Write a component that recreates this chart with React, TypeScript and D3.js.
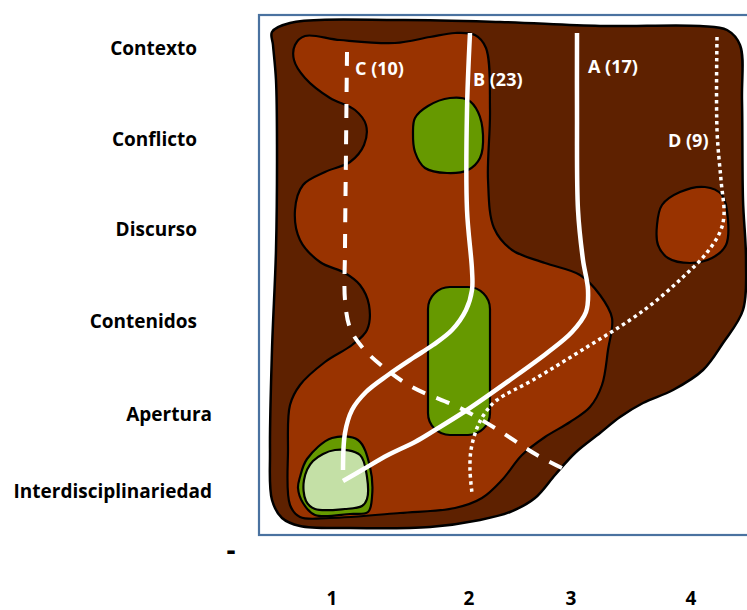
import React from 'react';
import * as d3 from 'd3';

// ---------- DATA ----------
const categories = ['Contexto', 'Conflicto', 'Discurso', 'Contenidos', 'Apertura', 'Interdisciplinariedad'];
const levelTicks = [1, 2, 3, 4];
const originLabel = '-';

const pathIds = ['A', 'B', 'C', 'D'];
const pathCounts = [17, 23, 10, 9];
const pathKinds = ['solid', 'solid', 'dashed', 'dotted'];

// Trajectories (frame units: x across, y down)
const pathA: [number, number][] = [[318, 18], [318, 95], [319, 195], [324, 245], [329, 275], [327, 297], [313, 317], [288, 338], [251, 365], [208, 395], [176, 415], [156, 427], [129, 440], [103, 455], [84, 466]];
const pathB: [number, number][] = [[211, 18], [208, 95], [208, 195], [213, 255], [213, 275], [207, 295], [193, 315], [174, 330], [154, 343], [129, 360], [107, 377], [93, 395], [86, 418], [84, 455]];
const pathC: [number, number][] = [[88, 37], [87, 135], [86, 235], [86, 285], [91, 313], [103, 332], [123, 351], [153, 372], [201, 393], [236, 413], [278, 440], [307, 455]];
const pathD: [number, number][] = [[458, 22], [458, 115], [462, 165], [465, 200], [461, 217], [446, 240], [424, 262], [398, 285], [371, 305], [328, 332], [274, 365], [238, 385], [226, 398], [218, 413], [212, 435], [211, 455], [213, 478]];

// Regions (frame units)
const outerRegion: [number, number][] = [[13, 17], [31, 8], [141, 5], [241, 7], [341, 11], [441, 11], [468, 15], [481, 30], [483, 85], [484, 185], [487, 245], [484, 295], [464, 328], [444, 355], [414, 375], [384, 388], [361, 402], [341, 418], [316, 438], [296, 460], [276, 483], [251, 497], [221, 505], [171, 512], [91, 513], [41, 511], [23, 503], [13, 485], [11, 435], [13, 335], [17, 235], [18, 135], [17, 65], [14, 30]];
const innerRegion: [number, number][] = [[36, 30], [46, 21], [81, 25], [136, 28], [171, 22], [196, 18], [216, 20], [227, 33], [231, 95], [229, 165], [235, 213], [253, 235], [286, 248], [321, 260], [341, 280], [353, 303], [349, 335], [343, 370], [331, 392], [311, 407], [286, 422], [263, 440], [243, 465], [223, 483], [196, 493], [141, 498], [71, 503], [41, 502], [31, 490], [29, 435], [31, 390], [41, 370], [66, 347], [93, 330], [108, 315], [110, 290], [101, 270], [86, 258], [61, 247], [41, 225], [36, 195], [44, 170], [66, 157], [91, 147], [105, 130], [107, 110], [96, 95], [71, 83], [46, 63], [35, 45]];
const discursoRegion: [number, number][] = [[398, 210], [403, 190], [421, 177], [446, 172], [463, 180], [469, 205], [467, 230], [453, 243], [431, 248], [409, 243], [399, 230]];
const conflictoRegion: [number, number][] = [[156, 103], [169, 91], [191, 83], [209, 85], [219, 97], [224, 120], [221, 143], [209, 155], [188, 158], [166, 153], [156, 137], [154, 118]];
const contenidosRegion = { x0: 169, x1: 231, y0: 272, y1: 420 };
const interOuterRegion: [number, number][] = [[41, 462], [48, 444], [73, 423], [99, 425], [111, 452], [113, 482], [109, 497], [91, 499], [56, 500], [44, 488], [39, 473]];
const interInnerRegion: [number, number][] = [[45, 465], [54, 446], [76, 435], [101, 440], [108, 462], [108, 484], [103, 491], [86, 494], [56, 494], [47, 486]];

// ---------- LAYOUT ----------
const W = 747;
const H = 610;
const sx = d3.scaleLinear().domain([0, 488]).range([259, 747]);
const sy = d3.scaleLinear().domain([0, 520]).range([15, 535]);
const catY = d3.scaleLinear().domain([0, 1, 2, 3, 4, 5]).range([55, 146, 236, 328, 421, 498]);
const catEndX = [197, 197, 197, 197, 212, 212];
const tickX = d3.scaleLinear().domain([1, 2, 3, 4]).range([332, 469, 571, 691]);
const labelAnchors: [number, number][] = [[329, 58], [214, 71], [96, 60], [409, 132]];

const COL_DARK = '#5E2100';
const COL_MID = '#993300';
const COL_GREEN = '#669900';
const COL_LIGHT = '#C4E0A6';
const FONT = "'Open Sans', 'DejaVu Sans', sans-serif";

const closed = d3.line<[number, number]>().x(d => sx(d[0])).y(d => sy(d[1])).curve(d3.curveCatmullRomClosed.alpha(0.5));
const open = d3.line<[number, number]>().x(d => sx(d[0])).y(d => sy(d[1])).curve(d3.curveCatmullRom.alpha(0.5));

const pathData = [pathA, pathB, pathC, pathD];

export default function App() {
  const dashFor = (k: string) => (k === 'dashed' ? '14 12' : k === 'dotted' ? '3.5 3.5' : undefined);
  return (
    <svg width={W} height={H} style={{ position: 'absolute', left: 0, top: 0, background: '#fff' }} fontFamily={FONT}>
      <rect x={259} y={15} width={540} height={520} fill="#fff" stroke="#4A72A0" strokeWidth={2.2} />
      <path d={closed(outerRegion) || ''} fill={COL_DARK} stroke="#000" strokeWidth={2.5} />
      <path d={closed(innerRegion) || ''} fill={COL_MID} stroke="#000" strokeWidth={2.2} />
      <path d={closed(discursoRegion) || ''} fill={COL_MID} stroke="#000" strokeWidth={2.2} />
      <path d={closed(conflictoRegion) || ''} fill={COL_GREEN} stroke="#000" strokeWidth={2.2} />
      <rect x={sx(contenidosRegion.x0)} y={sy(contenidosRegion.y0)} width={sx(contenidosRegion.x1) - sx(contenidosRegion.x0)} height={sy(contenidosRegion.y1) - sy(contenidosRegion.y0)} rx={22} ry={22} fill={COL_GREEN} stroke="#000" strokeWidth={2.2} />
      <path d={closed(interOuterRegion) || ''} fill={COL_GREEN} stroke="#000" strokeWidth={2.2} />
      <path d={closed(interInnerRegion) || ''} fill={COL_LIGHT} stroke="#000" strokeWidth={2.2} />

      {pathData.map((pts, i) => (
        <path key={pathIds[i]} d={open(pts) || ''} fill="none" stroke="#fff"
          strokeWidth={pathKinds[i] === 'solid' ? 4.5 : pathKinds[i] === 'dashed' ? 4 : 3.5}
          strokeDasharray={dashFor(pathKinds[i])} />
      ))}
      {pathIds.map((id, i) => (
        <text key={'l' + id} x={sx(labelAnchors[i][0])} y={sy(labelAnchors[i][1])} fill="#fff" fontWeight="bold" fontSize={18}>
          {`${id} (${pathCounts[i]})`}
        </text>
      ))}

      {categories.map((c, i) => (
        <text key={c} x={catEndX[i]} y={catY(i)} textAnchor="end" fontWeight="bold" fontSize={19} fill="#000">{c}</text>
      ))}
      <text x={231} y={560} textAnchor="middle" fontWeight="bold" fontSize={28} fill="#000">{originLabel}</text>
      {levelTicks.map(t => (
        <text key={t} x={tickX(t)} y={605} textAnchor="middle" fontWeight="bold" fontSize={19} fill="#000">{t}</text>
      ))}
    </svg>
  );
}
